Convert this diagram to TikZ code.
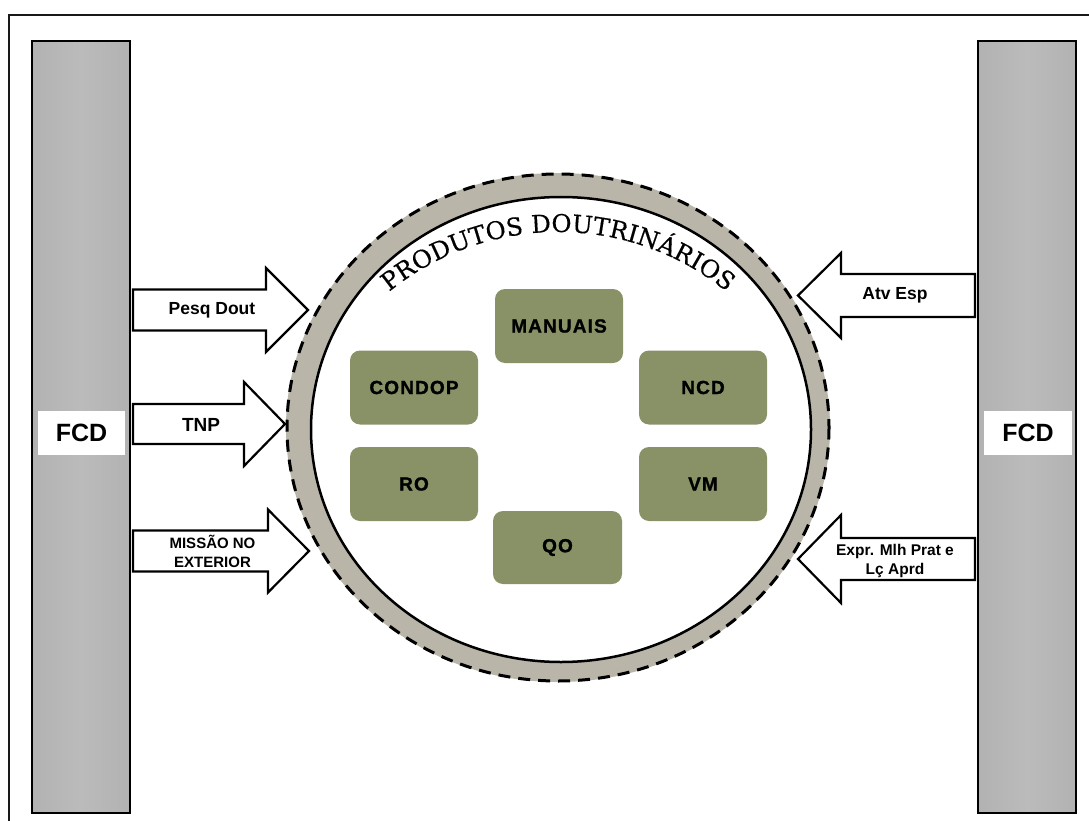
\documentclass[tikz,border=0pt]{standalone}
\usepackage{fontspec}
\setmainfont{Liberation Sans}
\newfontfamily\arcfont[FakeBold=0.4]{DejaVu Serif}
\newfontfamily\boxfont[LetterSpace=6,FakeBold=1.2]{Liberation Sans Bold}
\usetikzlibrary{decorations.text}
\definecolor{barC}{HTML}{B2B2B2}
\definecolor{barL}{HTML}{BBBBBB}
\definecolor{bandC}{HTML}{BAB5A9}
\definecolor{greenC}{HTML}{889266}
\newcommand{\blockarrow}[6]{%
  \filldraw[arrowshape] (#1,#4-#5) -- (#2,#4-#5) -- (#2,#4-#6) -- (#3,#4) -- (#2,#4+#6) -- (#2,#4+#5) -- (#1,#4+#5) -- cycle;}
\begin{document}
\begin{tikzpicture}[x=1pt,y=-1pt,
  barnode/.style={draw=black, line width=2.5pt, left color=barC, right color=barC, middle color=barL, minimum width=98pt, minimum height=772pt, inner sep=0pt},
  fcdnode/.style={fill=white, inner sep=0pt, font=\bfseries\fontsize{25pt}{25pt}\selectfont},
  gbox/.style={fill=greenC, rounded corners=10pt, minimum width=128pt, minimum height=74pt, inner sep=0pt, font=\boxfont\fontsize{19pt}{19pt}\selectfont},
  arrowshape/.style={draw=black, fill=white, line width=2.2pt, line join=miter},
  arrowtext/.style={inner sep=0pt, align=center, font=\bfseries}
]
\useasboundingbox (0,0) rectangle (1089,821);
\clip (0,0) rectangle (1089,821);
\fill[white] (0,0) rectangle (1089,821);
% outer frame
\draw[line width=2pt, color=black!90] (9,840) -- (9,15) -- (1100,15);
% side bars
\node[barnode] (barL) at (81,427) {};
\node[barnode] (barR) at (1027,427) {};
\node[fcdnode, minimum width=87pt, minimum height=44pt] (fcdL) at (81.5,433) {FCD};
\node[fcdnode, minimum width=88pt, minimum height=44pt] (fcdR) at (1028,433) {FCD};
% circle
\fill[bandC] (558,427.5) ellipse [x radius=272, y radius=254.5];
\draw[fill=white, line width=2.5pt] (561,429.5) ellipse [x radius=250, y radius=232.5];
\draw[line width=3pt, dash pattern=on 12pt off 8pt] (558,427.5) ellipse [x radius=271, y radius=253.5];
% arc title
\path[decorate, decoration={text along path, text align=center,
  text={|\arcfont\fontsize{24.5pt}{25pt}\selectfont|PRODUTOS DOUTRINÁRIOS}}]
  (558,500) ++(224:268) arc [start angle=224, end angle=316, radius=268];
% product boxes
\node[gbox] (manuais) at (559,326) {MANUAIS};
\node[gbox] (condop) at (414,387.5) {CONDOP};
\node[gbox] (ncd) at (703,387.5) {NCD};
\node[gbox] (ro) at (414,484) {RO};
\node[gbox] (vm) at (703,484) {VM};
\node[gbox, minimum width=129pt, minimum height=73pt] (qo) at (557.5,547.5) {QO};
% arrows
\blockarrow{133}{266}{308}{310}{20.5}{42}
\blockarrow{133}{244}{285}{424}{20}{42}
\blockarrow{133}{268}{309}{551}{20.5}{41.5}
\blockarrow{975}{841}{798}{295.5}{21.5}{42.5}
\blockarrow{975}{841}{798}{559}{21}{44}
\node[arrowtext, font=\bfseries\fontsize{17.5pt}{20pt}\selectfont] (pesq) at (212,310) {Pesq Dout};
\node[arrowtext, font=\bfseries\fontsize{19pt}{20pt}\selectfont] (tnp) at (201,425) {TNP};
\node[arrowtext, font=\bfseries\fontsize{15pt}{19pt}\selectfont] (missao) at (212.5,551.5) {MISSÃO NO\\EXTERIOR};
\node[arrowtext, font=\bfseries\fontsize{17.5pt}{20pt}\selectfont] (atv) at (895,295) {Atv Esp};
\node[arrowtext, font=\bfseries\fontsize{15.5pt}{19pt}\selectfont] (expr) at (895,560.5) {Expr. Mlh Prat e\\Lç Aprd};
\end{tikzpicture}
\end{document}
